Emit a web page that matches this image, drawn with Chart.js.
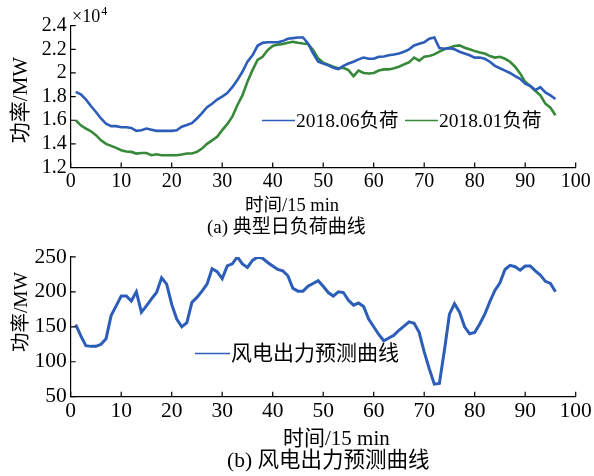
<!DOCTYPE html>
<html>
<head>
<meta charset="utf-8">
<script src="https://cdn.jsdelivr.net/npm/chart.js@4.4.1/dist/chart.umd.min.js"></script>
<style>
  html, body { margin: 0; padding: 0; background: #fff; }
  body { width: 594px; height: 476px; position: relative; overflow: hidden; }
  .wrap { position: absolute; left: 0; width: 594px; }
  .lbl { position: absolute; white-space: nowrap; font-family: 'Liberation Serif', 'Noto Sans CJK SC', serif; color: #000; line-height: 22px; }
  .rot { transform: translate(-50%, -50%) rotate(-90deg); transform-origin: center center; }
</style>
</head>
<body>
<div class="wrap" style="top:0;height:240px;"><canvas id="c1" width="594" height="240"></canvas></div>
<div class="wrap" style="top:240px;height:236px;"><canvas id="c2" width="594" height="236"></canvas></div>
<div class="lbl" id="xt1" style="left:245px;top:194px;font-size:18.5px;"></div>
<div class="lbl" style="left:207px;top:216px;font-size:19px;">(a) 典型日负荷曲线</div>
<div class="lbl" id="xt2" style="left:283px;top:427px;font-size:21px;"></div>
<div class="lbl" style="left:227px;top:449px;font-size:21.5px;">(b) 风电出力预测曲线</div>
<div class="lbl rot" id="yt1" style="left:20px;top:100px;font-size:21px;"></div>
<div class="lbl rot" id="yt2" style="left:20.5px;top:312px;font-size:19.5px;"></div>
<script>
// ---- data ----
const timeSteps = Array.from({length: 96}, (_, i) => i + 1);
const load201806 = [18400,18200,17760,17200,16700,16150,15700,15500,15500,15400,15400,15350,15100,15150,15300,15200,15100,15100,15100,15100,15150,15450,15600,15750,16150,16600,17100,17400,17750,18000,18300,18800,19400,20100,20950,21500,22300,22550,22600,22600,22600,22700,22900,22950,23000,23000,22500,21650,20950,20800,20640,20440,20330,20600,20800,20950,21150,21300,21200,21200,21370,21400,21500,21570,21650,21800,22000,22330,22480,22600,22900,23000,22100,22050,22100,22000,21800,21650,21500,21300,21300,21200,20950,20600,20400,20200,20000,19730,19500,19100,18900,18550,18800,18350,18100,17800];
const load201801 = [16000,15570,15300,15070,14740,14300,14000,13830,13660,13460,13350,13320,13180,13230,13230,13040,13120,13040,13040,13040,13040,13100,13180,13180,13320,13600,14000,14300,14600,15160,15670,16300,17270,18100,19250,20240,21100,21370,21940,22280,22400,22450,22560,22640,22560,22500,22450,21940,21240,20870,20700,20530,20400,20440,20240,19730,20200,20000,19960,20000,20200,20300,20300,20400,20530,20730,20900,21300,21040,21370,21430,21570,21800,22000,22130,22280,22330,22130,22000,21850,21740,21650,21430,21300,21370,21200,20950,20530,19960,19250,18900,18500,18100,17400,17060,16430];
const windForecast = [153,137,123,122,122,125,133,166,180,194,194,187,200,171,180,190,199,220,211,182,161,150,156,185,192,201,211,233,229,219,237,240,250,240,235,245,250,248,242,237,232,230,223,205,201,201,208,212,216,208,199,194,200,199,188,181,184,179,161,150,139,130,134,138,145,151,157,155,142,114,90,68,69,116,168,183,171,150,140,142,154,168,186,202,213,232,238,236,231,237,237,230,224,215,212,200];
const seriesNamesTop = ['2018.06负荷', '2018.01负荷'];
const seriesNameBottom = '风电出力预测曲线';
const xTitle = '时间/15 min';
const yTitle = '功率/MW';
const xTicksRange = [0, 100, 10];
const yTicksTop = [12000, 24000, 2000];
const yTicksBottom = [50, 250, 50];

document.getElementById('xt1').textContent = xTitle;
document.getElementById('xt2').textContent = xTitle;
document.getElementById('yt1').textContent = yTitle;
document.getElementById('yt2').textContent = yTitle;

const FONT = "'Liberation Serif', 'Noto Sans CJK SC', serif";
const BLUE = '#2c5db8';
const GREEN = '#37893a';

function pts(vals) { return vals.map((v, i) => ({x: timeSteps[i], y: v})); }

// inward tick marks drawn using scale positions
const inwardTicks = {
  id: 'inwardTicks',
  afterDraw(chart) {
    const ctx = chart.ctx;
    const {x, y} = chart.scales;
    ctx.save();
    ctx.strokeStyle = '#000';
    ctx.lineWidth = 1.2;
    ctx.beginPath();
    x.ticks.forEach(t => {
      const px = x.getPixelForValue(t.value);
      ctx.moveTo(px, x.top); ctx.lineTo(px, x.top - 5);
    });
    y.ticks.forEach(t => {
      const py = y.getPixelForValue(t.value);
      ctx.moveTo(y.right, py); ctx.lineTo(y.right + 5, py);
    });
    ctx.stroke();
    ctx.restore();
  }
};

// in-plot legend
const inLegend = {
  id: 'inLegend',
  afterDraw(chart, args, opts) {
    if (!opts.items) return;
    const ctx = chart.ctx;
    ctx.save();
    ctx.font = opts.size + 'px ' + FONT;
    ctx.textBaseline = 'middle';
    ctx.fillStyle = '#000';
    opts.items.forEach((it, i) => {
      const ds = chart.data.datasets[i];
      ctx.strokeStyle = ds.borderColor;
      ctx.lineWidth = 1.6;
      ctx.beginPath();
      ctx.moveTo(it.x, it.y); ctx.lineTo(it.x + it.len, it.y);
      ctx.stroke();
      ctx.fillText(ds.label, it.x + it.len + 1, it.y + 1);
    });
    ctx.restore();
  }
};

// exponent label
const expLabel = {
  id: 'expLabel',
  afterDraw(chart, args, opts) {
    if (!opts.show) return;
    const ctx = chart.ctx;
    ctx.save();
    ctx.fillStyle = '#000';
    ctx.textBaseline = 'alphabetic';
    ctx.font = '18px ' + FONT;
    ctx.fillText('×10', 72, 22);
    const w = ctx.measureText('×10').width;
    ctx.font = '12px ' + FONT;
    ctx.fillText('4', 72 + w + 1, 15);
    ctx.restore();
  }
};

function makeOptions(cfg) {
  return {
    responsive: false,
    animation: false,
    layout: { padding: cfg.padding },
    plugins: {
      legend: { display: false },
      tooltip: { enabled: false },
      inLegend: { items: cfg.legend, size: cfg.legendSize },
      expLabel: { show: cfg.exp }
    },
    scales: {
      x: {
        type: 'linear',
        min: xTicksRange[0], max: xTicksRange[1],
        afterFit(s) { s.height = cfg.xHeight; },
        ticks: { stepSize: xTicksRange[2], color: '#000', font: { family: FONT, size: cfg.tickSize }, padding: 2, maxRotation: 0, autoSkip: false },
        grid: { drawOnChartArea: false, drawTicks: false },
        border: { display: true, color: '#000', width: 1.2 },
        title: { display: false }
      },
      y: {
        type: 'linear',
        min: cfg.yt[0], max: cfg.yt[1],
        afterFit(s) { s.width = 70.7; },
        ticks: { stepSize: cfg.yt[2], color: '#000', font: { family: FONT, size: cfg.tickSize }, padding: 4, autoSkip: false, callback: cfg.yCb },
        grid: { drawOnChartArea: false, drawTicks: false },
        border: { display: true, color: '#000', width: 1.2 },
        title: { display: false }
      }
    }
  };
}

new Chart(document.getElementById('c1'), {
  type: 'line',
  data: {
    datasets: [
      { label: seriesNamesTop[0], data: pts(load201806), borderColor: BLUE, borderWidth: 2.6, pointRadius: 0, tension: 0, fill: false },
      { label: seriesNamesTop[1], data: pts(load201801), borderColor: GREEN, borderWidth: 2.6, pointRadius: 0, tension: 0, fill: false }
    ]
  },
  options: makeOptions({
    padding: { left: 0, right: 18.3, top: 25.7, bottom: 0 },
    xHeight: 72.5, tickSize: 20,
    yt: yTicksTop,
    yCb: v => String(Math.round(v / 1000) / 10),
    legend: [{ x: 262, y: 120.5, len: 33 }, { x: 405, y: 120.5, len: 33 }],
    legendSize: 19.5,
    exp: true
  }),
  plugins: [inwardTicks, inLegend, expLabel]
});

new Chart(document.getElementById('c2'), {
  type: 'line',
  data: {
    datasets: [
      { label: seriesNameBottom, data: pts(windForecast), borderColor: BLUE, borderWidth: 3, pointRadius: 0, tension: 0, fill: false }
    ]
  },
  options: makeOptions({
    padding: { left: 0, right: 18.3, top: 15.7, bottom: 0 },
    xHeight: 79.3, tickSize: 21.5,
    yt: yTicksBottom,
    yCb: v => String(v),
    legend: [{ x: 195, y: 113.5, len: 35 }],
    legendSize: 21,
    exp: false
  }),
  plugins: [inwardTicks, inLegend]
});
</script>
</body>
</html>
